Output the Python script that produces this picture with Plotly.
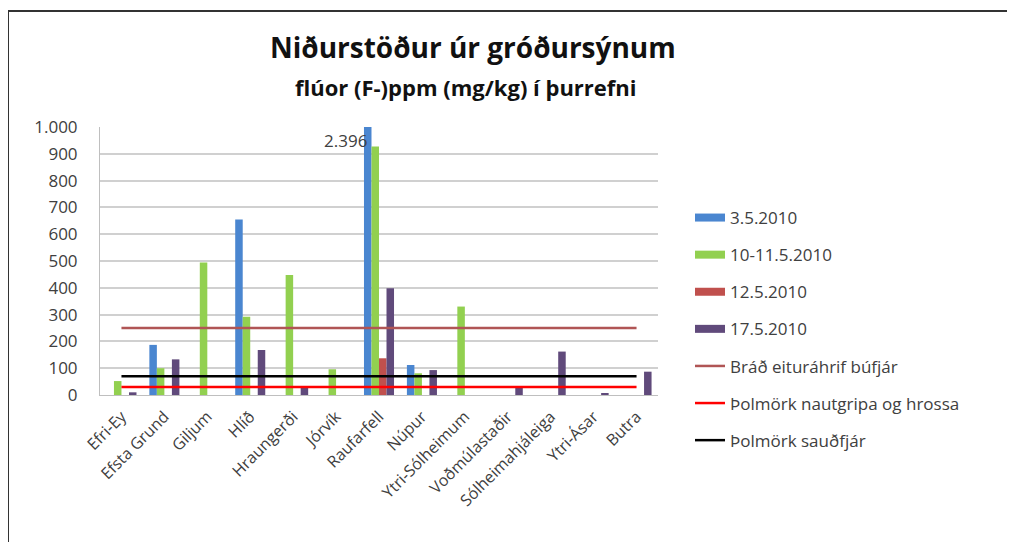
import plotly.graph_objects as go

categories = ["Efri-Ey", "Efsta Grund", "Giljum", "Hlíð", "Hraungerði", "Jórvík",
              "Raufarfell", "Núpur", "Ytri-Sólheimum", "Voðmúlastaðir",
              "Sólheimahjáleiga", "Ytri-Ásar", "Butra"]

s_3_5 = [None, 187, None, 655, None, None, 2396, 112, None, None, None, None, None]
s_10_11_5 = [52, 100, 494, 292, 448, 96, 927, 81, 330, None, None, None, None]
s_12_5 = [None, None, None, None, None, None, 137, None, None, None, None, None, None]
s_17_5 = [10, 133, None, 168, 27, None, 398, 93, None, 31, 162, 5, 87]

series_names = ["3.5.2010", "10-11.5.2010", "12.5.2010", "17.5.2010"]
series_colors = ["#4a86d0", "#92d050", "#c0504d", "#604a7b"]

thr_names = ["Bráð eituráhrif búfjár", "Þolmörk nautgripa og hrossa", "Þolmörk sauðfjár"]
thr_values = [250, 30, 70]
thr_colors = ["#b05555", "#ff0000", "#000000"]

y_ticks = [0, 100, 200, 300, 400, 500, 600, 700, 800, 900, 1000]
y_ticktext = ["0", "100", "200", "300", "400", "500", "600", "700", "800", "900", "1.000"]

FONT = "Open Sans"
TXT = "#404040"

fig = go.Figure()
for name, vals, col in zip(series_names, [s_3_5, s_10_11_5, s_12_5, s_17_5], series_colors):
    fig.add_trace(go.Bar(x=categories, y=vals, name=name, marker=dict(color=col, line=dict(width=0)),
                         showlegend=False))

# legend entries for bars (wide rectangle look)
for i, (name, col) in enumerate(zip(series_names, series_colors)):
    fig.add_trace(go.Scatter(x=[None], y=[None], mode="lines", name=name,
                             line=dict(color=col, width=8), legendgroup=f"g{i}", showlegend=True))

for j, (name, val, col) in enumerate(zip(thr_names, thr_values, thr_colors)):
    fig.add_trace(go.Scatter(x=categories, y=[val] * len(categories), mode="lines", name=name,
                             line=dict(color=col, width=2.5), legendgroup=f"t{j}",
                             hoverinfo="skip"))

OFF = 8  # page body margin
W, H = 1015 - OFF, 542 - OFF
L, T = 100 - OFF, 127 - OFF
R = W - (658 - OFF)
B = H - (395 - OFF)
pw, ph = W - L - R, H - T - B

def px(x):  # page x -> paper
    return (x - OFF - L) / pw

def py(y):  # page y -> paper
    return (H - B - (y - OFF)) / ph

fig.update_layout(
    width=W, height=H,
    margin=dict(l=L, r=R, t=T, b=B, pad=0),
    paper_bgcolor="white", plot_bgcolor="white",
    barmode="group", bargap=0.3, bargroupgap=0,
    font=dict(family=FONT, color=TXT),
    legend=dict(x=px(690), y=py(200), xanchor="left", yanchor="top",
                font=dict(size=17, color=TXT, family=FONT), tracegroupgap=12,
                traceorder="grouped", bgcolor="rgba(0,0,0,0)"),
    xaxis=dict(tickangle=-45, tickfont=dict(size=16, color=TXT, family=FONT),
               showline=True, linecolor="#bfbfbf", linewidth=1, showgrid=False,
               ticks="", ticklabelstandoff=5),
    yaxis=dict(range=[0, 1000], tickvals=y_ticks, ticktext=y_ticktext,
               tickfont=dict(size=17, color=TXT, family=FONT),
               showgrid=True, gridcolor="#d0d0d0", gridwidth=1.5,
               showline=True, linecolor="#bfbfbf", linewidth=1,
               ticks="", ticklabelstandoff=18, zeroline=False),
    annotations=[
        dict(text="<b>Niðurstöður úr gróðursýnum</b>", xref="paper", yref="paper",
             x=px(473), y=py(47), xanchor="center", yanchor="middle", showarrow=False,
             font=dict(size=28, color="#111111", family=FONT)),
        dict(text="<b>flúor (F-)ppm (mg/kg) í þurrefni</b>", xref="paper", yref="paper",
             x=px(466), y=py(87), xanchor="center", yanchor="middle", showarrow=False,
             font=dict(size=22, color="#111111", family=FONT)),
        dict(text="2.396", x="Raufarfell", y=1000, xref="x", yref="y",
             xanchor="right", yanchor="top", xshift=-10, yshift=0, showarrow=False,
             font=dict(size=17, color=TXT, family=FONT)),
    ],
    shapes=[
        dict(type="line", xref="paper", yref="paper", x0=px(8), x1=px(1015), y0=py(11), y1=py(11),
             line=dict(color="#333333", width=2)),
        dict(type="line", xref="paper", yref="paper", x0=px(8), x1=px(8), y0=py(11), y1=py(542),
             line=dict(color="#333333", width=2)),
    ],
)

fig.write_html("out.html")
